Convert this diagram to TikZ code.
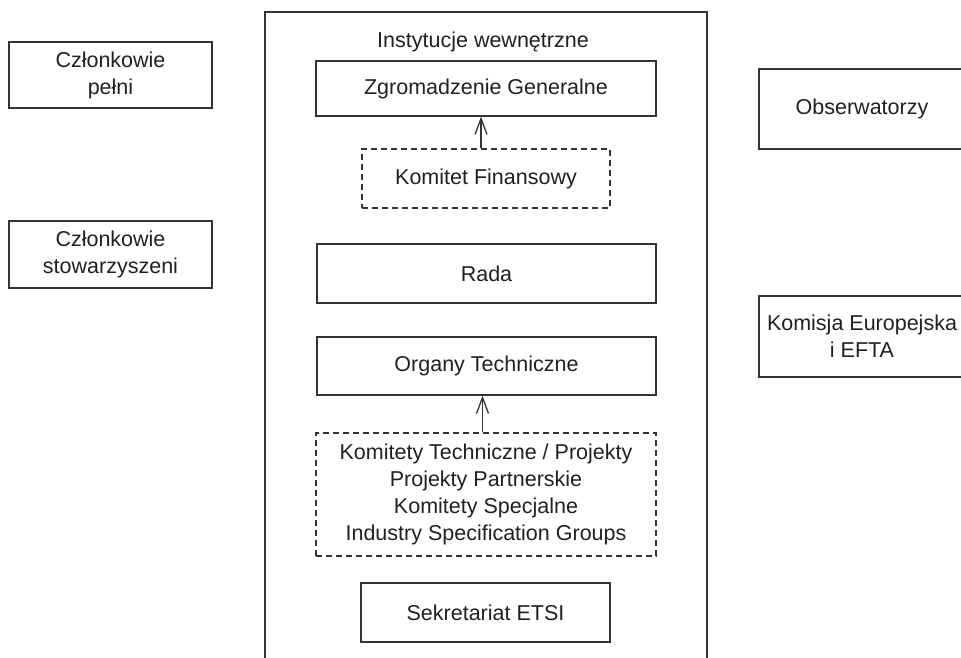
\documentclass[tikz,border=0pt]{standalone}
\usepackage{fontspec}
\setmainfont{Liberation Sans}
\usetikzlibrary{arrows.meta}
\definecolor{ink}{HTML}{231F20}
\definecolor{linec}{HTML}{333333}
\tikzset{
  box/.style={draw=linec, line width=1.3pt, text=ink, align=center, inner sep=0pt,
    font=\fontsize{21.5}{27}\selectfont},
  dbox/.style={box, dash pattern=on 6pt off 4pt},
  arr/.style={draw=linec, line width=1.3pt, -{Straight Barb[length=16pt,width=12pt,line width=1.3pt]}},
}
\begin{document}
\begin{tikzpicture}[x=1pt,y=-1pt]
\useasboundingbox (0,0) rectangle (961,657);
\clip (0,0) rectangle (961,657);
% outer (open) frame
\draw[draw=linec, line width=1.3pt] (265,670) -- (265,12) -- (707,12) -- (707,670);
\node[text=ink, font=\fontsize{21.5}{27}\selectfont] (title) at (483,42) {Instytucje wewnętrzne};
% left
\node[box, minimum width=203pt, minimum height=66pt] (cp) at (110.5,75) {Członkowie\\pełni};
\node[box, minimum width=203pt, minimum height=67pt] (cs) at (110.5,254.5) {Członkowie\\stowarzyszeni};
% right
\node[box, minimum width=206pt, minimum height=80pt] (obs) at (862,109) {Obserwatorzy};
\node[box, minimum width=206pt, minimum height=81pt] (ke) at (862,336.5) {Komisja Europejska\\i EFTA};
% inner
\node[box, minimum width=340pt, minimum height=55pt] (zg) at (486,88.5) {Zgromadzenie Generalne};
\node[dbox, minimum width=248pt, minimum height=59pt] (kf) at (486,178.5) {Komitet Finansowy};
\node[box, minimum width=339pt, minimum height=59pt] (rada) at (486.5,273.5) {Rada};
\node[box, minimum width=339pt, minimum height=58pt] (ot) at (486.5,366) {Organy Techniczne};
\node[dbox, minimum width=340pt, minimum height=123pt] (kt) at (486,494.5) {Komitety Techniczne / Projekty\\Projekty Partnerskie\\Komitety Specjalne\\Industry Specification Groups};
\node[box, minimum width=249pt, minimum height=59pt] (sek) at (485.5,612.5) {Sekretariat ETSI};
% arrows
\draw[arr] ([xshift=-5pt]kf.north) -- ([xshift=-5pt]kf.north |- zg.south);
\draw[arr] ([xshift=-3.5pt]kt.north) -- ([xshift=-3.5pt]kt.north |- ot.south);
\end{tikzpicture}
\end{document}
